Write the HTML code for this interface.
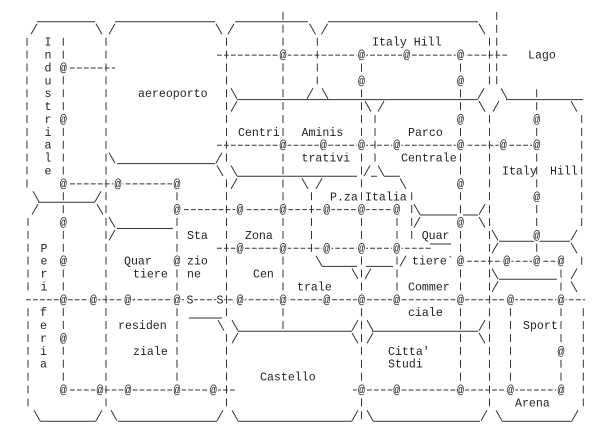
<!DOCTYPE html>
<html><head><meta charset="utf-8"><style>
html,body{margin:0;padding:0;background:#fff;}
svg{display:block;}
</style></head><body>
<svg width="605" height="431" viewBox="0 0 605 431" xmlns="http://www.w3.org/2000/svg">
<rect width="605" height="431" fill="#fff"/>
<g stroke="#333" stroke-width="1" fill="none">
 <g stroke-dasharray="8 4.88">
  <line x1="27" y1="37.7" x2="27" y2="187.4"/>
  <line x1="28" y1="218" x2="28" y2="290.4"/>
  <line x1="28" y1="308.2" x2="28" y2="406.3"/>
  <line x1="63.3" y1="37.7" x2="63.3" y2="393.5"/>
  <line x1="106" y1="37.7" x2="106" y2="406.3"/>
  <line x1="177" y1="179.4" x2="177" y2="393.5"/>
  <line x1="226.5" y1="37.7" x2="226.5" y2="161.6"/>
  <line x1="226.5" y1="179.4" x2="226.5" y2="316.2"/>
  <line x1="226.5" y1="333.9" x2="226.5" y2="406.3"/>
  <line x1="283" y1="11.9" x2="283" y2="329.1"/>
  <line x1="317.3" y1="37.7" x2="317.3" y2="84.3"/>
  <line x1="361.5" y1="50.6" x2="361.5" y2="419.2"/>
  <line x1="375" y1="115" x2="375" y2="161.6"/>
  <line x1="311.5" y1="192.3" x2="311.5" y2="251.8"/>
  <line x1="397" y1="205.1" x2="397" y2="303.3"/>
  <line x1="411.7" y1="192.3" x2="411.7" y2="238.9"/>
  <line x1="460.5" y1="50.6" x2="460.5" y2="393.5"/>
  <line x1="489.5" y1="37.7" x2="489.5" y2="84.3"/>
  <line x1="489.5" y1="115" x2="489.5" y2="406.3"/>
  <line x1="496.7" y1="11.9" x2="496.7" y2="84.3"/>
  <line x1="536.7" y1="89.2" x2="536.7" y2="264.7"/>
  <line x1="581.7" y1="115" x2="581.7" y2="226"/>
  <line x1="581.7" y1="256.7" x2="581.7" y2="264.7"/>
  <line x1="583.3" y1="308.2" x2="583.3" y2="406.3"/>
  <line x1="561" y1="256.7" x2="561" y2="393.5"/>
  <line x1="510.5" y1="295.3" x2="510.5" y2="393.5"/>
 </g>
 <g stroke-dasharray="4.8 2.16">
  <line x1="217" y1="55.1" x2="507" y2="55.1"/>
  <line x1="63" y1="68" x2="115" y2="68"/>
  <line x1="217" y1="145.2" x2="537" y2="145.2"/>
  <line x1="63" y1="183.9" x2="177" y2="183.9"/>
  <line x1="177" y1="209.6" x2="400" y2="209.6"/>
  <line x1="217" y1="248.3" x2="432" y2="248.3"/>
  <line x1="460" y1="261.2" x2="561" y2="261.2"/>
  <line x1="26" y1="299.8" x2="585" y2="299.8"/>
  <line x1="63" y1="390" x2="237" y2="390"/>
  <line x1="353" y1="390" x2="562" y2="390"/>
 </g>
 <path d="M37 21.8H95M115 21.8H215M235 21.8H308M328 21.8H478
 M237 99.6H478M506 99.6H583
 M117 163.6H215
 M237 176.3H357M371 176.3H377M384 176.3H400
 M38 202.2H95
 M420 215H457M463 215H478
 M117 228.5H173
 M499 241.2H570
 M430 244H451
 M322 266.4H357M366 266.4H393
 M499 279.2H557
 M189 318H222
 M238 331.3H352M372 331.3H478
 M40 421.3H96M118 421.3H217M238 421.3H352M373 421.3H480M502 421.3H572"/>
 <path d="M31 34.3L37 23.8M96 23.8L102 34.3M109 34.3L115 23.8M216 23.8L222 34.3M228 34.3L234 23.8M309.5 23.8L315.5 34.3M321.5 34.3L327.5 23.8M479 23.8L485 34.3
 M231 88.2L237 98.7M307 98.7L313 88.2M322 88.2L328 98.7M478 98.7L484 88.2M501 88.2L507 98.7
 M231 111.6L237 101.1M365 101.1L371 111.6M378 111.6L384 101.1M479 101.1L485 111.6M493 111.6L499 101.1M571 101.1L577 111.6
 M109 152.6L115 163.1M216 163.1L222 152.6
 M217 165.5L223 176M231 165.5L237 176M364 176L370 165.5M378 165.5L384 176
 M231 188.9L237 178.4M302 178.4L308 188.9M316 188.9L322 178.4M400 178.4L406 188.9
 M33 191.3L39 201.8M95 201.8L101 191.3
 M32 214.6L38 204.1M97 204.1L103 214.6M414 204.1L420 214.6M479 214.6L485 204.1
 M109 217L115 227.5M414 227.5L420 217M479 217L485 227.5
 M109 240.4L115 229.9M492 229.9L498 240.4M571 240.4L577 229.9
 M492 253.3L498 242.8M571 242.8L577 253.3
 M316 255.7L322 266.2M400 266.2L406 255.7
 M352 268.5L358 279M365 279L371 268.5M492 268.5L498 279M571 279L577 268.5
 M492 291.9L498 281.4M571 281.4L577 291.9
 M218 320.1L224 330.6M232 320.1L238 330.6M352 330.6L358 320.1M367 320.1L373 330.6M479 330.6L485 320.1
 M232 343.4L238 332.9M352 332.9L358 343.4M367 343.4L373 332.9M479 332.9L485 343.4
 M34 410.2L40 420.7M96 420.7L102 410.2M111 410.2L117 420.7M217 420.7L223 410.2M232 410.2L238 420.7M352 420.7L358 410.2M367 410.2L373 420.7M481 420.7L487 410.2M496 410.2L502 420.7M572 420.7L578 410.2"/>
</g>
<g font-family="'Liberation Mono', 'DejaVu Sans Mono', monospace" font-size="11.6" fill="#222">
 <g text-anchor="middle" stroke="#fff" stroke-width="3" paint-order="stroke">
  <text x="283" y="58.6">@</text><text x="361.5" y="58.6">@</text><text x="406.7" y="58.6">@</text><text x="460.5" y="58.6">@</text>
  <text x="63.3" y="71.5">@</text>
  <text x="361.5" y="84.3">@</text><text x="460.5" y="84.3">@</text>
  <text x="63.3" y="123">@</text><text x="460.5" y="123">@</text><text x="536.7" y="123">@</text>
  <text x="283" y="148.7">@</text><text x="323.3" y="148.7">@</text><text x="361.5" y="148.7">@</text><text x="396.7" y="148.7">@</text><text x="460.5" y="148.7">@</text><text x="503.3" y="148.7">@</text><text x="536.7" y="148.7">@</text>
  <text x="63.3" y="187.4">@</text><text x="118" y="187.4">@</text><text x="177" y="187.4">@</text><text x="460.5" y="187.4">@</text>
  <text x="536.7" y="200.3">@</text>
  <text x="177" y="213.1">@</text><text x="240" y="213.1">@</text><text x="283" y="213.1">@</text><text x="326.7" y="213.1">@</text><text x="361.5" y="213.1">@</text><text x="396.7" y="213.1">@</text>
  <text x="63.3" y="226">@</text><text x="460.5" y="226">@</text>
  <text x="536.7" y="238.9">@</text>
  <text x="240" y="251.8">@</text><text x="283" y="251.8">@</text><text x="326.7" y="251.8">@</text><text x="361.5" y="251.8">@</text><text x="396.7" y="251.8">@</text>
  <text x="63.3" y="264.7">@</text><text x="177" y="264.7">@</text><text x="460.5" y="264.7">@</text><text x="506.7" y="264.7">@</text><text x="536.7" y="264.7">@</text><text x="561" y="264.7">@</text>
  <text x="63.3" y="303.3">@</text><text x="93.3" y="303.3">@</text><text x="127.7" y="303.3">@</text><text x="177" y="303.3">@</text><text x="190" y="303.3">S</text><text x="220" y="303.3">S</text><text x="240" y="303.3">@</text><text x="283" y="303.3">@</text><text x="326.7" y="303.3">@</text><text x="361.5" y="303.3">@</text><text x="396.7" y="303.3">@</text><text x="460.5" y="303.3">@</text><text x="510.5" y="303.3">@</text><text x="561" y="303.3">@</text>
  <text x="63.3" y="341.9">@</text>
  <text x="561" y="354.8">@</text>
  <text x="63.3" y="393.5">@</text><text x="100" y="393.5">@</text><text x="128" y="393.5">@</text><text x="177" y="393.5">@</text><text x="213.3" y="393.5">@</text><text x="361.5" y="393.5">@</text><text x="396.7" y="393.5">@</text><text x="460.5" y="393.5">@</text><text x="510.5" y="393.5">@</text><text x="561" y="393.5">@</text>
 </g>
 <g text-anchor="middle">
  <text x="48" y="45.7">I</text><text x="48" y="58.6">n</text><text x="48" y="71.5">d</text><text x="48" y="84.3">u</text><text x="48" y="97.2">s</text><text x="48" y="110.1">t</text><text x="48" y="123">r</text><text x="48" y="135.9">i</text><text x="48" y="148.7">a</text><text x="48" y="161.6">l</text><text x="48" y="174.5">e</text>
  <text x="44" y="251.8">P</text><text x="44" y="264.7">e</text><text x="44" y="277.5">r</text><text x="44" y="290.4">i</text>
  <text x="43.5" y="316.2">f</text><text x="43.5" y="329.1">e</text><text x="43.5" y="341.9">r</text><text x="43.5" y="354.8">i</text><text x="43.5" y="367.7">a</text>
 </g>
 <text x="138" y="97.2">aereoporto</text>
 <text x="238" y="135.9">Centri</text>
 <text x="301.5" y="135.9">Aminis</text>
 <text x="408" y="135.9">Parco</text>
 <text x="372" y="45.7">Italy Hill</text>
 <text x="528" y="58.6">Lago</text>
 <text x="301.5" y="161.6">trativi</text>
 <text x="401" y="161.6">Centrale</text>
 <text x="502" y="174.5">Italy</text>
 <text x="550" y="174.5">Hill</text>
 <text x="330" y="200.3">P.za</text>
 <text x="365" y="200.3">Italia</text>
 <text x="187" y="238.9">Sta</text>
 <text x="187" y="264.7">zio</text>
 <text x="187" y="277.5">ne</text>
 <text x="245" y="238.9">Zona</text>
 <text x="124" y="264.7">Quar</text>
 <text x="133" y="277.5">tiere</text>
 <text x="421.7" y="238.9">Quar</text>
 <text x="412" y="264.7">tiere`</text>
 <text x="253" y="277.5">Cen</text>
 <text x="297" y="290.4">trale</text>
 <text x="408" y="290.4">Commer</text>
 <text x="408" y="316.2">ciale</text>
 <text x="118" y="329.1">residen</text>
 <text x="133" y="354.8">ziale</text>
 <text x="523" y="329.1">Sport</text>
 <text x="388" y="354.8">Citta'</text>
 <text x="388" y="367.7">Studi</text>
 <text x="260" y="380.6">Castello</text>
 <text x="515" y="406.3">Arena</text>
</g>
</svg>
</body></html>
